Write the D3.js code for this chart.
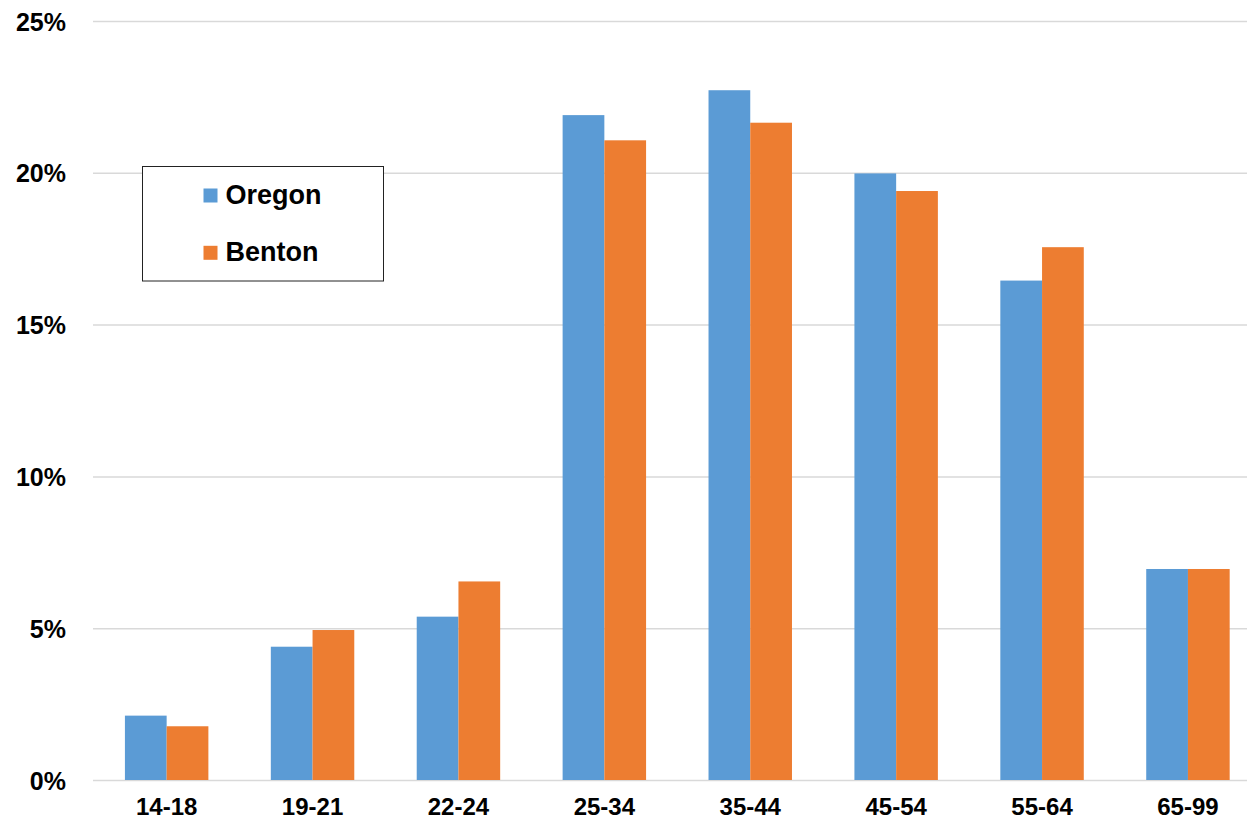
<!DOCTYPE html>
<html>
<head>
<meta charset="utf-8">
<script src="https://cdn.jsdelivr.net/npm/d3@7"></script>
<style>
  html, body { margin: 0; padding: 0; background: #fff; }
  svg { display: block; }
  text { font-family: "Liberation Sans", Arial, sans-serif; font-weight: bold; fill: #000; }
</style>
</head>
<body>
<svg id="chart" width="1247" height="822"></svg>
<script>
const categories = ["14-18", "19-21", "22-24", "25-34", "35-44", "45-54", "55-64", "65-99"];
const seriesNames = ["Oregon", "Benton"];
const oregon = [2.12, 4.39, 5.38, 21.90, 22.72, 19.98, 16.45, 6.95];
const benton = [1.77, 4.94, 6.54, 21.07, 21.65, 19.40, 17.55, 6.95];
const yTicks = [0, 5, 10, 15, 20, 25];
const colors = ["#5B9BD5", "#ED7D31"];

const svg = d3.select("#chart");

const x0 = d3.scaleBand().domain(categories).range([93.7, 1260.9]).paddingInner(0.428).paddingOuter(0.214);
const x1 = d3.scaleBand().domain(seriesNames).range([0, x0.bandwidth()]);
const y = d3.scaleLinear().domain([0, 25]).range([780, 21]);

// gridlines
const grid = svg.append("g")
  .attr("transform", "translate(93,0)")
  .call(d3.axisLeft(y).tickValues(yTicks).tickSize(-(1260.9 - 93)).tickFormat(""));
grid.select(".domain").remove();
grid.selectAll("line").attr("stroke", "#D9D9D9").attr("stroke-width", 1.5);

// y tick labels
const yAxis = svg.append("g").attr("transform", "translate(66,0)")
  .call(d3.axisLeft(y).tickValues(yTicks).tickSize(0).tickPadding(0).tickFormat(d => d + "%"));
yAxis.select(".domain").remove();
yAxis.selectAll("text").style("font-size", "25px").attr("dy", "0.36em")
  .style("font-family", "'Liberation Sans', Arial, sans-serif").style("font-weight", "bold").attr("fill", "#000");

// bars
const data = categories.map((c, i) => ({ cat: c, vals: [oregon[i], benton[i]] }));
const groups = svg.append("g").selectAll("g").data(data).join("g")
  .attr("transform", d => `translate(${x0(d.cat)},0)`);
groups.selectAll("rect").data(d => d.vals.map((v, j) => ({ name: seriesNames[j], v, j })))
  .join("rect")
  .attr("x", d => x1(d.name))
  .attr("width", x1.bandwidth())
  .attr("y", d => y(d.v))
  .attr("height", d => y(0) - y(d.v))
  .attr("fill", d => colors[d.j]);

// x axis labels
const xAxis = svg.append("g").attr("transform", "translate(0,798)")
  .call(d3.axisBottom(x0).tickSize(0).tickPadding(0));
xAxis.select(".domain").remove();
xAxis.selectAll("text").style("font-size", "24px").attr("dy", "0.71em")
  .style("font-family", "'Liberation Sans', Arial, sans-serif").style("font-weight", "bold").attr("fill", "#000");

// legend
const lg = svg.append("g");
lg.append("rect").attr("x", 142.5).attr("y", 166.5).attr("width", 241).attr("height", 114.5)
  .attr("fill", "#fff").attr("stroke", "#222").attr("stroke-width", 1);
const legendRows = [195.5, 252.8];
seriesNames.forEach((n, i) => {
  lg.append("rect").attr("x", 203.5).attr("y", legendRows[i] - 7).attr("width", 14).attr("height", 14).attr("fill", colors[i]);
  lg.append("text").attr("x", 225.5).attr("y", legendRows[i] - 1.5).attr("dy", "0.36em")
    .style("font-size", "27px").text(n);
});
</script>
</body>
</html>
